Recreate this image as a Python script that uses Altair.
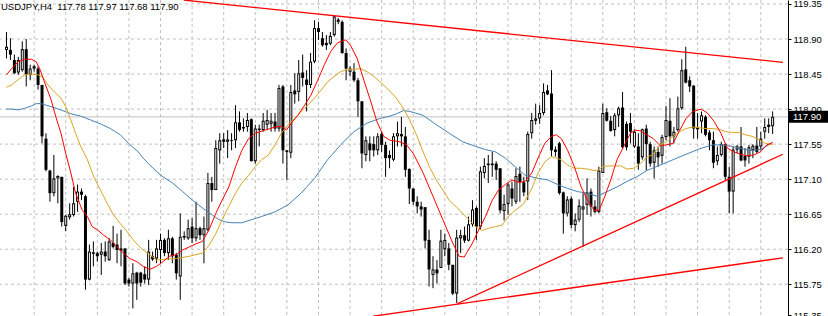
import altair as alt
import pandas as pd

# ---------------- data ----------------
symbol_text = "USDJPY,H4\u00a0 117.78 117.97 117.68 117.90"

opens = [118.76, 118.76, 118.63, 118.47, 118.50, 118.77, 118.44, 118.52, 118.52, 118.31,
         117.62, 117.21, 116.92, 117.11, 117.13, 116.50, 116.61, 116.64, 116.81, 116.94,
         116.88, 115.81, 116.14, 116.15, 116.13, 116.17, 116.06, 116.28, 116.26, 116.18,
         116.21, 115.81, 115.76, 115.90, 115.90, 115.88, 115.81, 116.11, 116.08, 116.19,
         116.32, 116.15, 116.34, 116.13, 115.85, 116.37, 116.34, 116.49, 116.34, 116.47,
         116.38, 116.45, 117.05, 116.96, 117.47, 117.61, 117.58, 117.59, 117.60, 117.83,
         117.77, 117.77, 117.87, 117.33, 117.75, 117.73, 117.80, 117.81, 117.84, 117.75,
         118.29, 117.47, 117.44, 118.24, 118.22, 118.47, 118.38, 118.31, 118.61, 119.04,
         118.91, 118.85, 118.84, 118.95, 119.15, 119.12, 118.72, 118.48, 118.48, 118.37,
         118.10, 117.41, 117.56, 117.55, 117.47, 117.68, 117.54, 117.41, 117.35, 117.65,
         117.68, 117.65, 117.23, 116.98, 116.81, 116.75, 116.74, 116.32, 115.87, 115.94,
         115.96, 116.20, 116.21, 116.00, 115.63, 116.34, 116.38, 116.31, 116.52, 116.73,
         116.49, 117.18, 117.30, 117.30, 117.30, 117.24, 116.69, 116.78, 116.98, 116.81,
         117.17, 117.06, 117.07, 117.69, 117.85, 117.88, 117.95, 118.24, 118.20, 117.48,
         117.56, 116.93, 116.66, 116.85, 116.51, 116.58, 116.71, 116.77, 116.94, 116.75,
         116.68, 117.18, 117.96, 117.85, 117.73, 117.92, 118.02, 117.81, 117.82, 117.52,
         117.52, 117.38, 117.75, 117.55, 117.31, 117.45, 117.40, 117.64, 117.85, 117.65,
         117.73, 118.01, 118.51, 118.37, 118.30, 117.77, 117.84, 117.90, 117.70, 117.60,
         117.33, 117.41, 117.55, 117.13, 116.94, 117.48, 117.52, 117.40, 117.39, 117.47,
         117.53, 117.52, 117.71, 117.80, 117.78]

highs = [118.99, 118.91, 118.70, 118.67, 118.87, 118.90, 118.57, 118.57, 118.55, 118.31,
         117.69, 117.22, 117.41, 117.15, 117.13, 116.64, 116.79, 117.00, 117.03, 116.98,
         116.90, 116.26, 116.30, 116.17, 116.28, 116.30, 116.34, 116.50, 116.40, 116.45,
         116.21, 115.83, 116.02, 115.91, 115.91, 115.98, 116.32, 116.17, 116.32, 116.40,
         116.34, 116.45, 116.36, 116.15, 116.66, 116.43, 116.58, 116.60, 116.81, 116.49,
         116.62, 117.18, 117.13, 117.60, 117.69, 117.69, 117.73, 117.69, 118.05, 117.97,
         117.88, 117.95, 117.88, 117.80, 117.80, 117.95, 117.99, 117.95, 117.95, 118.31,
         118.31, 117.47, 118.31, 118.46, 118.63, 118.70, 118.50, 118.72, 119.14, 119.12,
         118.99, 118.95, 118.99, 119.20, 119.17, 119.14, 118.78, 118.55, 118.59, 118.40,
         118.10, 117.65, 117.65, 117.65, 117.69, 117.71, 117.58, 117.47, 117.69, 117.84,
         117.90, 117.77, 117.24, 116.98, 116.88, 116.81, 116.74, 116.45, 116.11, 116.06,
         116.45, 116.40, 116.28, 116.00, 116.45, 116.45, 116.49, 116.62, 116.83, 116.75,
         117.26, 117.37, 117.41, 117.45, 117.33, 117.24, 116.90, 117.05, 117.07, 117.24,
         117.26, 117.13, 117.71, 117.95, 118.07, 118.05, 118.33, 118.31, 118.50, 117.52,
         117.58, 116.94, 116.88, 116.88, 116.66, 116.84, 116.92, 117.11, 116.98, 116.83,
         117.26, 118.07, 118.01, 117.91, 117.95, 118.03, 118.22, 117.84, 117.95, 117.74,
         117.69, 117.75, 117.80, 117.58, 117.52, 117.52, 117.67, 118.04, 118.14, 117.77,
         118.16, 118.64, 118.80, 118.42, 118.31, 117.95, 117.97, 117.92, 117.73, 117.71,
         117.52, 117.58, 117.56, 117.26, 117.52, 117.54, 117.77, 117.50, 117.54, 117.55,
         117.77, 117.71, 117.88, 117.88, 117.97]

lows = [118.65, 118.63, 118.45, 118.44, 118.48, 118.29, 118.37, 118.48, 118.25, 117.56,
        117.20, 116.81, 116.88, 116.79, 116.49, 116.43, 116.58, 116.62, 116.68, 116.83,
        115.68, 115.80, 115.98, 116.04, 115.87, 116.04, 116.05, 116.21, 116.02, 115.98,
        115.74, 115.72, 115.44, 115.55, 115.72, 115.76, 115.74, 116.05, 116.02, 116.02,
        116.11, 116.06, 116.02, 115.81, 115.55, 116.32, 116.32, 116.28, 116.30, 116.32,
        116.02, 116.43, 116.81, 116.96, 117.30, 117.50, 117.37, 117.47, 117.50, 117.71,
        117.71, 117.71, 117.33, 117.30, 117.52, 117.71, 117.73, 117.71, 117.71, 117.71,
        117.30, 117.09, 117.37, 118.07, 118.10, 118.29, 117.97, 118.27, 118.59, 118.89,
        118.80, 118.76, 118.82, 118.93, 119.09, 118.71, 118.37, 118.42, 118.35, 117.90,
        117.24, 117.33, 117.33, 117.39, 117.41, 117.45, 117.13, 117.24, 117.33, 117.52,
        117.52, 117.13, 116.78, 116.77, 116.66, 116.62, 116.21, 115.72, 115.70, 115.76,
        115.96, 116.11, 115.93, 115.61, 115.51, 116.15, 116.28, 116.30, 116.49, 116.32,
        116.45, 117.11, 117.05, 117.13, 117.09, 116.66, 116.57, 116.64, 116.75, 116.78,
        116.81, 116.88, 116.83, 117.62, 117.80, 117.81, 117.92, 118.18, 117.39, 117.39,
        116.90, 116.40, 116.62, 116.47, 116.43, 116.55, 116.23, 116.64, 116.62, 116.66,
        116.66, 117.18, 117.84, 117.71, 117.65, 117.77, 117.50, 117.47, 117.56, 117.50,
        117.22, 117.35, 117.21, 117.26, 117.11, 117.26, 117.30, 117.60, 117.52, 117.56,
        117.71, 117.99, 118.33, 118.22, 117.62, 117.62, 117.69, 117.65, 117.47, 117.24,
        117.28, 117.39, 117.09, 116.66, 116.66, 117.43, 117.33, 117.26, 117.30, 117.37,
        117.43, 117.47, 117.62, 117.69, 117.68]

closes = [118.80, 118.70, 118.46, 118.63, 118.77, 118.44, 118.52, 118.55, 118.31, 117.65,
          117.22, 116.92, 117.11, 117.14, 116.55, 116.63, 116.65, 116.79, 116.94, 116.90,
          115.81, 116.17, 116.16, 116.11, 116.17, 116.11, 116.30, 116.23, 116.19, 116.21,
          115.76, 115.76, 115.89, 115.76, 115.77, 115.81, 116.17, 116.07, 116.21, 116.32,
          116.15, 116.34, 116.11, 115.89, 116.36, 116.35, 116.47, 116.34, 116.47, 116.38,
          116.47, 117.05, 116.96, 117.50, 117.60, 117.58, 117.61, 117.60, 117.83, 117.73,
          117.75, 117.86, 117.33, 117.75, 117.73, 117.85, 117.86, 117.85, 117.75, 118.27,
          117.47, 117.45, 118.22, 118.19, 118.46, 118.40, 118.31, 118.61, 119.04, 118.99,
          118.82, 118.82, 118.94, 119.19, 119.12, 118.72, 118.52, 118.52, 118.37, 118.10,
          117.43, 117.60, 117.47, 117.47, 117.65, 117.54, 117.37, 117.37, 117.65, 117.69,
          117.65, 117.22, 116.98, 116.81, 116.75, 116.71, 116.31, 115.94, 115.94, 115.89,
          116.31, 116.32, 116.00, 115.63, 116.35, 116.38, 116.31, 116.52, 116.71, 116.49,
          117.20, 117.27, 117.28, 117.28, 117.22, 116.70, 116.78, 117.03, 116.85, 117.14,
          117.06, 116.93, 117.68, 117.86, 117.88, 117.95, 118.22, 118.19, 117.47, 117.45,
          116.92, 116.66, 116.84, 116.51, 116.58, 116.76, 116.75, 116.93, 116.75, 116.68,
          117.21, 117.95, 117.85, 117.72, 117.92, 118.01, 117.51, 117.51, 117.71, 117.71,
          117.30, 117.74, 117.55, 117.30, 117.47, 117.38, 117.64, 117.86, 117.65, 117.71,
          118.01, 118.50, 118.34, 118.29, 117.75, 117.74, 117.92, 117.67, 117.60, 117.31,
          117.41, 117.55, 117.13, 116.94, 117.48, 117.52, 117.34, 117.34, 117.51, 117.53,
          117.45, 117.62, 117.77, 117.77, 117.90]

# moving averages, sampled along the bars (bar index, price)
red_x = [0, 1.3, 3, 4.6, 6.3, 7.5, 8.4, 9.6, 11.3, 12.5, 13.8, 15, 16.3, 17.5, 19.2, 20.5, 21.7, 23,
         24.6, 26.3, 28, 29.6, 31.3, 33, 34.6, 36.3, 38, 39.6, 41.3, 43, 44.6, 46.3, 48, 49.6, 51.3,
         53, 54.6, 56.3, 58, 59.6, 61.3, 63, 65.5, 68, 69.6, 70.9, 72.1, 73.8, 75.5, 77.1, 78.8, 80.5,
         82.1, 83.8, 85.9, 87.1, 88.8, 90.5, 92.1, 93.8, 95.5, 97.1, 99.6, 101.3, 103, 105.5, 108,
         110.5, 113, 114.6, 115.9, 118, 119.6, 121.3, 123, 124.6, 126.3, 128, 129.6, 131.3, 133,
         134.6, 136.3, 138, 139.2, 140.5, 142.1, 143.8, 145.5, 147.1, 148.8, 150, 151.3, 153, 154.6,
         156.3, 158, 159.2, 160.5, 162.1, 163.8, 165.5, 167.1, 168.8, 170.5, 172.1, 173.8, 175.9,
         177.5, 179.2, 180.9, 182.5, 184.2, 185.9, 187.5, 189.2, 190.9, 192.5, 194]
red_y = [118.44, 118.52, 118.61, 118.64, 118.64, 118.61, 118.52, 118.35, 118.12, 117.90, 117.69,
         117.43, 117.18, 116.92, 116.70, 116.62, 116.49, 116.45, 116.38, 116.32, 116.23, 116.15,
         116.08, 116.04, 115.98, 115.94, 115.98, 116.04, 116.11, 116.13, 116.19, 116.23, 116.27,
         116.30, 116.45, 116.66, 116.83, 117.00, 117.26, 117.47, 117.62, 117.69, 117.73, 117.77,
         117.78, 117.73, 117.82, 117.92, 118.05, 118.18, 118.37, 118.57, 118.74, 118.85, 118.89,
         118.82, 118.65, 118.37, 118.12, 117.84, 117.65, 117.60, 117.58, 117.54, 117.43, 117.18,
         116.88, 116.58, 116.28, 116.11, 116.10, 116.28, 116.45, 116.62, 116.83, 116.96, 117.03,
         117.09, 117.06, 117.07, 117.18, 117.37, 117.56, 117.65, 117.67, 117.62, 117.47, 117.26,
         117.00, 116.83, 116.70, 116.70, 116.85, 117.09, 117.35, 117.52, 117.69, 117.73, 117.72,
         117.67, 117.62, 117.53, 117.54, 117.56, 117.73, 117.88, 117.97, 118.00, 117.95, 117.84,
         117.69, 117.50, 117.45, 117.42, 117.40, 117.41, 117.45, 117.54, 117.57]

orange_x = [0, 1.3, 3, 4.6, 6.3, 8, 9.2, 10.5, 12.1, 13.8, 15, 16.3, 17.5, 18.8, 20.5, 22.1, 23.8,
            25.5, 27.1, 28.8, 30.5, 32.1, 33.4, 34.6, 36.3, 38, 39.6, 43, 46.3, 49.6, 51.3, 53, 54.6,
            56.3, 58, 59.6, 61.3, 63, 64.6, 66.3, 68, 69.6, 71.3, 73, 74.6, 76.3, 78, 79.6, 81.3, 83,
            84.6, 86.3, 88, 89.6, 91.3, 93, 94.6, 96.3, 98.4, 100.5, 102.1, 103.8, 105.5, 107.1,
            108.8, 110.5, 112.1, 113.8, 115.5, 117.1, 118.8, 120.5, 122.1, 123.8, 125.5, 127.1, 128.8,
            130.9, 133, 134.6, 136.3, 138, 139.2, 140.5, 142.1, 143.8, 145.5, 147.1, 148.8, 150,
            150.9, 152.1, 153.8, 155.5, 157.1, 158.8, 160.5, 162.1, 163.8, 165.5, 167.1, 168.8,
            170.5, 172.1, 173.8, 175.5, 177.1, 178.8, 180.5, 182.1, 183.8, 185.5, 187.1, 188.8,
            190.5, 192.1, 194]
orange_y = [118.28, 118.31, 118.38, 118.44, 118.45, 118.44, 118.41, 118.31, 118.22, 118.14, 118.03,
            117.86, 117.69, 117.52, 117.35, 117.13, 116.96, 116.79, 116.64, 116.53, 116.43, 116.32,
            116.25, 116.19, 116.13, 116.06, 116.07, 116.08, 116.11, 116.15, 116.25, 116.40, 116.58,
            116.75, 116.92, 117.05, 117.15, 117.26, 117.35, 117.41, 117.54, 117.69, 117.80, 117.88,
            117.97, 118.05, 118.14, 118.24, 118.35, 118.42, 118.48, 118.51, 118.51, 118.52, 118.48,
            118.42, 118.35, 118.27, 118.16, 118.01, 117.86, 117.67, 117.45, 117.26, 117.09, 116.96,
            116.83, 116.75, 116.66, 116.58, 116.49, 116.44, 116.47, 116.49, 116.51, 116.62, 116.70,
            116.78, 116.98, 117.18, 117.32, 117.39, 117.37, 117.35, 117.28, 117.24, 117.24, 117.23,
            117.21, 117.22, 117.26, 117.27, 117.27, 117.27, 117.23, 117.24, 117.30, 117.38, 117.42,
            117.54, 117.58, 117.65, 117.71, 117.75, 117.77, 117.76, 117.75, 117.75, 117.74, 117.71,
            117.70, 117.70, 117.67, 117.65, 117.61, 117.56, 117.54]

blue_x = [0, 1.3, 3, 4.6, 6.3, 7.5, 8.8, 10, 12.1, 14.2, 16.3, 18.8, 21.3, 23.8, 26.3, 28.8, 31.3,
          33.4, 34.6, 37.1, 39.6, 42.1, 44.6, 47.1, 49.6, 52.1, 53.8, 55.5, 57.1, 59.6, 62.1, 64.6,
          68, 71.3, 74.6, 78, 81.3, 84.6, 88, 91.3, 94.6, 97.1, 98.8, 100.5, 102.1, 105.5, 108.8,
          112.1, 115.5, 118.8, 121.3, 123.8, 126.3, 128.8, 131.3, 134.6, 137.1, 139.6, 142.1, 144.6,
          147.1, 149.6, 152.1, 154.6, 157.1, 159.6, 162.1, 165.5, 168.8, 172.1, 175.5, 178.8, 181.3,
          183.8, 186.3, 188, 189.6, 191.3, 193, 194]
blue_y = [118.00, 118.00, 117.99, 118.01, 118.04, 118.07, 118.07, 118.05, 118.02, 117.98, 117.94,
          117.91, 117.86, 117.81, 117.75, 117.67, 117.54, 117.45, 117.37, 117.24, 117.13, 117.05,
          116.94, 116.83, 116.73, 116.64, 116.58, 116.55, 116.54, 116.54, 116.58, 116.62, 116.68,
          116.77, 116.92, 117.11, 117.35, 117.54, 117.71, 117.82, 117.88, 117.91, 117.94, 117.98,
          117.97, 117.92, 117.80, 117.69, 117.58, 117.52, 117.48, 117.45, 117.37, 117.26, 117.15,
          117.11, 117.09, 117.03, 116.98, 116.94, 116.92, 116.88, 116.94, 117.00, 117.07, 117.13,
          117.21, 117.28, 117.35, 117.42, 117.49, 117.54, 117.54, 117.52, 117.49, 117.47, 117.47,
          117.49, 117.54, 117.57]

# trend lines drawn on the chart (bar index, price)
upper_line_x = [44.9, 196.6]
upper_line_y = [119.40, 118.60]
steep_line_x = [114.1, 196.6]
steep_line_y = [115.50, 117.42]
flat_line_x = [92.9, 196.6]
flat_line_y = [115.34, 116.09]

price_labels = [119.35, 118.90, 118.45, 118.00, 117.55, 117.10, 116.65, 116.20, 115.75, 115.35]
grid_prices = [119.35, 118.90, 118.45, 118.00, 117.55, 117.10, 116.65, 116.20, 115.75]
grid_bars = [7, 15, 23, 31, 39, 47, 55, 63, 71, 79, 87, 95, 103, 111, 119, 127, 135, 143, 151,
             159, 167, 175, 183, 191]
last_price = 117.90

# ---------------- chart ----------------
FONT = "Liberation Sans"
FS = 9.5
xs = alt.Scale(domain=[-0.375, 196.625], nice=False, zero=False)
ys = alt.Scale(domain=[115.3424, 119.401], nice=False, zero=False)

Y_AXIS = alt.Axis(
    orient="right", values=price_labels, format=".2f", grid=False, title=None,
    domainColor="black", domainWidth=1, tickColor="black", tickSize=3,
    labelFont=FONT, labelFontSize=FS, labelColor="black", labelPadding=2,
    labelOverlap=False, labelBound=False, labelFlush=False)


def Y(field):
    return alt.Y(field, scale=ys, title=None, axis=Y_AXIS)


df = pd.DataFrame({"i": list(range(len(opens))), "o": opens, "h": highs, "l": lows, "c": closes})

X = alt.X("i:Q", scale=xs, axis=None)

grid_h = alt.Chart(pd.DataFrame({"p": grid_prices})).mark_rule(
    color="#c0c0c0", strokeDash=[3, 3], strokeWidth=1
).encode(y=Y("p:Q"))

grid_v = alt.Chart(pd.DataFrame({"i": grid_bars})).mark_rule(
    color="#c0c0c0", strokeDash=[3, 3], strokeWidth=1
).encode(x=X)

price_line = alt.Chart(pd.DataFrame({"p": [last_price]})).mark_rule(
    color="#c0c0c0", strokeWidth=1
).encode(y=Y("p:Q"))

base = alt.Chart(df)
wicks = base.mark_rule(color="black", strokeWidth=1).encode(x=X, y=Y("l:Q"), y2="h:Q")
bodies = base.mark_bar(color="black", width=3).encode(x=X, y=Y("o:Q"), y2="c:Q")
inner = base.transform_filter("datum.c - datum.o > 0.03").mark_bar(
    color="white", width=1, yOffset=1, y2Offset=-1
).encode(x=X, y=Y("c:Q"), y2="o:Q")


def line_layer(xv, yv, color, width=1.0):
    d = pd.DataFrame({"i": xv, "p": yv})
    return alt.Chart(d).mark_line(color=color, strokeWidth=width, clip=True).encode(
        x=X, y=Y("p:Q")
    )


ma_blue = line_layer(blue_x, blue_y, "#4682b4")
ma_orange = line_layer(orange_x, orange_y, "#daa520")
ma_red = line_layer(red_x, red_y, "#ff0000")
tl_upper = line_layer(upper_line_x, upper_line_y, "#ff0000", 1.3)
tl_steep = line_layer(steep_line_x, steep_line_y, "#ff0000", 1.3)
tl_flat = line_layer(flat_line_x, flat_line_y, "#ff0000", 1.3)

title = alt.Chart(pd.DataFrame({"t": [symbol_text]})).mark_text(
    align="left", baseline="middle", font=FONT, fontSize=FS, color="black"
).encode(text="t:N", x=alt.value(1), y=alt.value(7))

box = alt.Chart(pd.DataFrame({"p": [last_price]})).mark_rect(
    color="black", yOffset=-6, y2Offset=6
).encode(x=alt.value(789), x2=alt.value(828), y=Y("p:Q"), y2="p:Q")
box_text = alt.Chart(pd.DataFrame({"p": [last_price]})).mark_text(
    align="left", baseline="middle", font=FONT, fontSize=FS, color="white"
).encode(x=alt.value(793), y=Y("p:Q"), text=alt.Text("p:Q", format=".2f"))

chart = alt.layer(
    grid_h, grid_v, price_line, wicks, bodies, inner,
    ma_blue, ma_orange, ma_red, tl_upper, tl_steep, tl_flat,
    title, box, box_text
).properties(
    width=788, height=316,
    autosize=alt.AutoSizeParams(type="none"),
    padding={"left": 0, "right": 40, "top": 0, "bottom": 0},
    background="white",
).configure_view(stroke=None)

chart.save("out.html", embed_options={"renderer": "svg", "actions": False})
